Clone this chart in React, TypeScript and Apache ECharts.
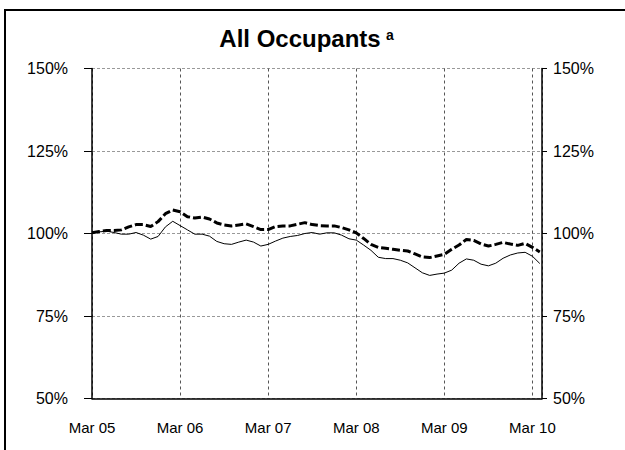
import React, { useEffect, useRef } from "react";
import * as echarts from "echarts";

const yearLabels = ["Mar 05", "Mar 06", "Mar 07", "Mar 08", "Mar 09", "Mar 10"];
const monthIndex = Array.from({ length: 62 }, (_, i) => i);

const allOccupants = [
  100.2, 100.5, 100.7, 100.3, 99.8, 99.8, 100.3, 99.5, 98.3, 99.1,
  102.0, 103.7, 102.4, 101.1, 99.8, 99.8, 99.2, 97.6, 96.9, 96.7,
  97.4, 98.0, 97.4, 96.2, 96.7, 97.7, 98.6, 99.1, 99.4, 100.0,
  100.3, 99.8, 100.2, 100.2, 99.5, 98.4, 98.0, 96.5, 94.9, 92.8,
  92.4, 92.4, 91.9, 91.1, 89.6, 88.1, 87.3, 87.7, 88.0, 88.9,
  91.0, 92.3, 91.9, 90.7, 90.2, 91.0, 92.5, 93.5, 94.1, 94.3,
  93.1, 90.9,
];

const comparison = [
  100.2, 100.6, 100.9, 100.9, 101.1, 102.0, 102.7, 102.7, 102.1, 103.6,
  106.0, 107.1, 106.6, 105.1, 104.7, 105.0, 104.4, 103.2, 102.6, 102.3,
  102.6, 102.9, 102.1, 101.2, 101.2, 102.1, 102.3, 102.3, 102.8, 103.3,
  102.7, 102.4, 102.3, 102.3, 101.8, 101.1, 100.2, 98.5, 96.7, 95.8,
  95.5, 95.2, 94.9, 94.7, 93.8, 92.9, 92.7, 93.2, 93.7, 95.2,
  96.5, 98.2, 97.9, 96.8, 96.2, 96.7, 97.3, 96.8, 96.4, 97.0,
  95.8, 94.4,
];

const yTicks = [50, 75, 100, 125, 150];

export default function App() {
  const ref = useRef<HTMLDivElement>(null);
  useEffect(() => {
    document.body.style.margin = "0";
    const chart = echarts.init(ref.current!, null, { renderer: "svg" });
    const font = "Liberation Sans, Arial, sans-serif";
    chart.setOption({
      animation: false,
      backgroundColor: "#ffffff",
      graphic: [
        {
          type: "rect",
          shape: { x: 5, y: 10, width: 700, height: 500 },
          style: { fill: "none", stroke: "#000", lineWidth: 2 },
          silent: true,
        },
        {
          type: "text",
          x: 300,
          y: 38,
          style: {
            text: "All Occupants",
            font: `bold 24px ${font}`,
            fill: "#000",
            align: "center",
            verticalAlign: "middle",
          },
        },
        {
          type: "text",
          x: 386,
          y: 35,
          style: {
            text: "a",
            font: `bold 14px ${font}`,
            fill: "#000",
            align: "left",
            verticalAlign: "middle",
          },
        },
      ],
      grid: { left: 92, right: 83, top: 68.5, bottom: 51.5 },
      xAxis: {
        type: "value",
        min: 0,
        max: 61.3,
        interval: 12,
        axisLine: { show: true, onZero: false, lineStyle: { color: "#000", width: 1.5 } },
        axisTick: { show: false },
        axisLabel: {
          margin: 21,
          fontSize: 15,
          fontFamily: font,
          color: "#000",
          formatter: (v: number) => (v % 12 === 0 ? yearLabels[v / 12] ?? "" : ""),
        },
        splitLine: { show: true, lineStyle: { color: "#555", type: [3, 3], width: 1 } },
      },
      yAxis: [
        {
          type: "value",
          min: 50,
          max: 150,
          interval: 25,
          position: "left",
          axisLine: { show: true, lineStyle: { color: "#000", width: 1.5 } },
          axisTick: { show: true, length: 8, lineStyle: { color: "#000" } },
          axisLabel: {
            margin: 24,
            fontSize: 16,
            fontFamily: font,
            color: "#000",
            formatter: (v: number) => (yTicks.includes(v) ? `${v}%` : ""),
          },
          splitLine: { show: true, lineStyle: { color: "#999", type: [3, 2], width: 1 } },
        },
        {
          type: "value",
          min: 50,
          max: 150,
          interval: 25,
          position: "right",
          axisLine: { show: true, lineStyle: { color: "#000", width: 1.5 } },
          axisTick: { show: true, length: 5, lineStyle: { color: "#000" } },
          axisLabel: {
            margin: 11,
            fontSize: 16,
            fontFamily: font,
            color: "#000",
            formatter: (v: number) => (yTicks.includes(v) ? `${v}%` : ""),
          },
          splitLine: { show: false },
        },
      ],
      series: [
        {
          type: "line",
          name: "All Occupants",
          data: monthIndex.map((m, i) => [m, allOccupants[i]]),
          symbol: "none",
          lineStyle: { color: "#000", width: 1 },
          z: 3,
        },
        {
          type: "line",
          name: "Comparison",
          data: monthIndex.map((m, i) => [m, comparison[i]]),
          symbol: "none",
          lineStyle: { color: "#000", width: 3, type: [8, 3] },
          z: 4,
        },
      ],
    });
    return () => chart.dispose();
  }, []);
  return <div ref={ref} style={{ width: 625, height: 450 }} />;
}
